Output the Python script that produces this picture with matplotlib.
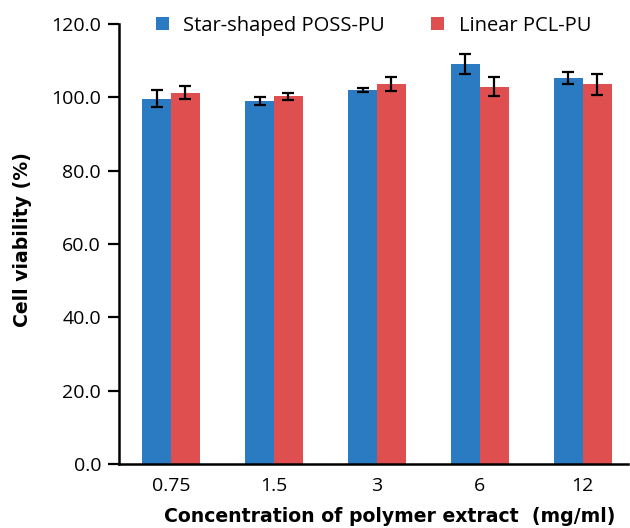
import numpy as np
import matplotlib
matplotlib.use("Agg")
import matplotlib.pyplot as plt

concentrations = ["0.75", "1.5", "3", "6", "12"]
star_poss = [99.6, 99.0, 102.0, 109.1, 105.2]
star_poss_err = [2.3, 1.1, 0.6, 2.6, 1.6]
linear_pcl = [101.3, 100.3, 103.6, 102.9, 103.6]
linear_pcl_err = [1.8, 0.9, 1.9, 2.6, 2.9]

BLUE = "#2a7bc1"
RED = "#e04f4f"


def main():
    fig = plt.figure(figsize=(6.3, 5.28), dpi=100)
    ax = fig.add_axes([0.189, 0.1212, 0.808, 0.8333])

    x = np.arange(len(concentrations))
    width = 0.28
    err_kw = dict(ecolor="black", elinewidth=1.6, capsize=4.4, capthick=1.6)
    ax.bar(x - width / 2, star_poss, width, yerr=star_poss_err, color=BLUE,
           label="Star-shaped POSS-PU", error_kw=err_kw)
    ax.bar(x + width / 2, linear_pcl, width, yerr=linear_pcl_err, color=RED,
           label="Linear PCL-PU", error_kw=err_kw)

    ax.set_xlim(-0.505, 4.44)
    ax.set_ylim(0, 120)
    yt = np.arange(0, 121, 20)
    ax.set_yticks(yt)
    ax.set_yticklabels(["{:.1f}".format(v) for v in yt],
                       fontfamily="Open Sans", fontsize=14)
    ax.set_xticks(x)
    ax.set_xticklabels(concentrations, fontfamily="Open Sans", fontsize=14)

    ax.spines["top"].set_visible(False)
    ax.spines["right"].set_visible(False)
    ax.spines["left"].set_linewidth(1.8)
    ax.spines["bottom"].set_linewidth(1.8)
    ax.tick_params(axis="y", length=8, width=1.6, direction="out", pad=5)
    ax.tick_params(axis="x", length=0, pad=9)

    ax.set_ylabel("Cell viability (%)", fontfamily="DejaVu Sans",
                  fontweight="bold", fontsize=13.6)
    ax.set_xlabel("Concentration of polymer extract  (mg/ml)",
                  fontfamily="DejaVu Sans", fontweight="bold", fontsize=13.6)
    ax.yaxis.set_label_coords(-0.171, 0.51)
    ax.xaxis.set_label_coords(0.532, -0.098)

    ax.legend(loc="upper center", bbox_to_anchor=(0.5, 1.06), ncol=2,
              frameon=False, prop={"family": "Open Sans", "size": 14.5},
              handlelength=0.65, handleheight=0.65, handletextpad=0.7,
              columnspacing=2.3)

    fig.savefig("out.png", dpi=100)


if __name__ == "__main__":
    main()
